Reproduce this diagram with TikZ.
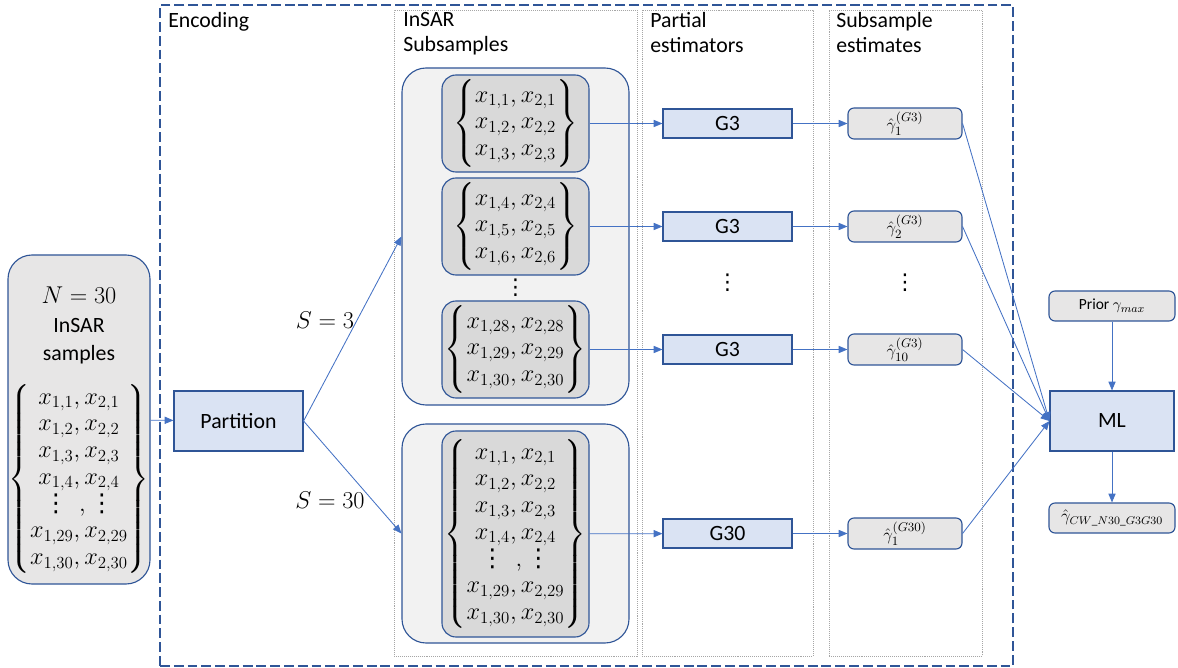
\documentclass[tikz,border=0pt]{standalone}
\usepackage{amsmath}
\usepackage{fontspec}
\setmainfont{Carlito}
\newfontfamily\dotsfont{DejaVu Sans}
\usetikzlibrary{arrows.meta,positioning}

\definecolor{boxline}{HTML}{2F5597}
\definecolor{arrowblue}{HTML}{4472C4}
\definecolor{blockfill}{HTML}{DAE3F3}
\definecolor{greyfill}{HTML}{E7E6E6}
\definecolor{outerfill}{HTML}{F2F2F2}
\definecolor{innerfill}{HTML}{D9D9D9}
\definecolor{colline}{HTML}{A6A6A6}

\newcommand*{\px}{0.025cm}
\newcommand*{\colx}{727.5}
\newcommand*{\estx}{905}
\newcommand*{\mlx}{1112}
\newcommand*{\mtxsize}{\fontsize{17.5}{19}\selectfont}
\newcommand*{\vdts}{{\dotsfont ⋮}}
\newcommand*{\mvdts}{\text{\vdts}}

\begin{document}
\begin{tikzpicture}[x=\px, y=-\px,
  every node/.style={font=\fontsize{15.5}{19}\selectfont},
  arr/.style={-{Triangle[length=2.2mm,width=1.8mm]}, arrowblue, line width=0.6pt},
  blk/.style={draw=boxline, fill=blockfill, line width=0.8pt, inner sep=0pt},
  est/.style={draw=boxline, fill=greyfill, line width=0.8pt, rounded corners=0.15cm, inner sep=0pt,
    minimum width=114*\px, minimum height=31*\px, font=\fontsize{12.5}{14}\selectfont},
  grp/.style={draw=boxline, fill=outerfill, line width=0.8pt, rounded corners=0.6cm, minimum width=227*\px},
  sub/.style={draw=boxline, fill=innerfill, line width=0.8pt, rounded corners=0.35cm, minimum width=147*\px},
  mtx/.style={inner sep=0pt, font=\mtxsize},
  col/.style={draw=colline, line width=0.6pt, dash pattern=on 0.7pt off 0.7pt, inner sep=0pt},
  ttl/.style={anchor=north west, align=left, inner sep=0pt, font=\fontsize{15.5}{18}\selectfont}]

	\useasboundingbox (0,0) rectangle (1178,668);

	% encoding frame and columns
	\node[draw=boxline, line width=1.2pt, dash pattern=on 7pt off 2.8pt, minimum width=853*\px, minimum height=661*\px, inner sep=0pt] (enc) at (586.5,335.5) {};
	\node[col, minimum width=243*\px, minimum height=646*\px] (colsub) at (515.5,333) {};
	\node[col, minimum width=171*\px, minimum height=646*\px] (colpart) at (\colx,333) {};
	\node[col, minimum width=153*\px, minimum height=646*\px] (colest) at (905.5,333) {};

	\node[ttl] (tenc) at (168,12) {Encoding};
	\node[ttl] (tsub) at (403,12) {InSAR\\Subsamples};
	\node[ttl] (tpart) at (650,12) {Partial\\estimators};
	\node[ttl] (test) at (836,12) {Subsample\\estimates};

	% input samples
	\node[draw=boxline, fill=greyfill, line width=0.8pt, rounded corners=0.6cm, minimum width=142*\px, minimum height=329*\px, inner sep=0pt] (inbox) at (79,419.5) {};
	\node[align=center, inner sep=0pt, font=\fontsize{15.5}{20}\selectfont, anchor=north] (intxt) at (79,287)
	  {{\mtxsize$N=30$}\\InSAR\\samples};
	\node[mtx] (min) at (79,479)
	  {$\left\{\begin{array}{@{}c@{}}
	     x_{1,1},x_{2,1}\\ x_{1,2},x_{2,2}\\ x_{1,3},x_{2,3}\\ x_{1,4},x_{2,4}\\
	     \mvdts\;\,,\mvdts\\ x_{1,29},x_{2,29}\\ x_{1,30},x_{2,30}
	   \end{array}\right\}$};

	\node[blk, minimum width=129*\px, minimum height=60*\px] (part) at (238.5,421) {Partition};
	\node[font=\mtxsize] (s3) at (325,320) {$S=3$};
	\node[font=\mtxsize] (s30) at (330,500) {$S=30$};

	% subsamples
	\node[grp, minimum height=337*\px] (grpA) at (515.5,236.5) {};
	\node[sub, minimum height=97*\px] (subA1) at (515.5,123.5) {};
	\node[mtx] (mA1) at (subA1)
	  {$\left\{\begin{array}{@{}c@{}} x_{1,1},x_{2,1}\\ x_{1,2},x_{2,2}\\ x_{1,3},x_{2,3} \end{array}\right\}$};
	\node[sub, minimum height=97*\px] (subA2) at (515.5,226.5) {};
	\node[mtx] (mA2) at (subA2)
	  {$\left\{\begin{array}{@{}c@{}} x_{1,4},x_{2,4}\\ x_{1,5},x_{2,5}\\ x_{1,6},x_{2,6} \end{array}\right\}$};
	\node (dotsA) at (515.5,288) {\vdts};
	\node[sub, minimum height=97*\px] (subA3) at (515.5,349.5) {};
	\node[mtx] (mA3) at (subA3)
	  {$\left\{\begin{array}{@{}c@{}} x_{1,28},x_{2,28}\\ x_{1,29},x_{2,29}\\ x_{1,30},x_{2,30} \end{array}\right\}$};

	\node[grp, minimum height=219*\px] (grpB) at (515.5,533.5) {};
	\node[sub, minimum height=206*\px] (subB) at (515.5,534) {};
	\node[mtx] (mB) at (subB)
	  {$\left\{\begin{array}{@{}c@{}}
	     x_{1,1},x_{2,1}\\ x_{1,2},x_{2,2}\\ x_{1,3},x_{2,3}\\ x_{1,4},x_{2,4}\\
	     \mvdts\;\,,\mvdts\\ x_{1,29},x_{2,29}\\ x_{1,30},x_{2,30}
	   \end{array}\right\}$};

	% partial estimators
	\node[blk, minimum width=129*\px, minimum height=29*\px] (g3a) at (\colx,123.5) {G3};
	\node[blk, minimum width=129*\px, minimum height=29*\px] (g3b) at (\colx,226.5) {G3};
	\node (dotsG) at (\colx,283) {\vdts};
	\node[blk, minimum width=129*\px, minimum height=29*\px] (g3c) at (\colx,349.5) {G3};
	\node[blk, minimum width=129*\px, minimum height=29*\px] (g30) at (\colx,533.5) {G30};

	% subsample estimates
	\node[est] (e1) at (\estx,123.5) {$\hat{\gamma}_1^{(G3)}$};
	\node[est] (e2) at (\estx,226.5) {$\hat{\gamma}_2^{(G3)}$};
	\node (dotsE) at (\estx,283) {\vdts};
	\node[est] (e10) at (\estx,349.5) {$\hat{\gamma}_{10}^{(G3)}$};
	\node[est] (e30) at (\estx,533.5) {$\hat{\gamma}_1^{(G30)}$};

	% ML stage
	\node[est, minimum width=126*\px, minimum height=30*\px, font=\fontsize{11}{13}\selectfont] (prior) at (\mlx,306) {Prior $\gamma_{max}$};
	\node[blk, minimum width=124*\px, minimum height=60*\px] (ml) at (\mlx,421) {ML};
	\node[est, minimum width=126*\px, minimum height=30*\px, font=\fontsize{11.5}{13}\selectfont] (out) at (\mlx,518) {$\hat{\gamma}_{CW\_N30\_G3G30}$};

	% connectors
	\draw[arr] (inbox) -- (part);
	\draw[arr] (part.east) -- (grpA.west);
	\draw[arr] (part.east) -- (grpB.west);
	\draw[arr] (subA1) -- (g3a);
	\draw[arr] (subA2) -- (g3b);
	\draw[arr] (subA3) -- (g3c);
	\draw[arr] (subB) -- (g30);
	\draw[arr] (g3a) -- (e1);
	\draw[arr] (g3b) -- (e2);
	\draw[arr] (g3c) -- (e10);
	\draw[arr] (g30) -- (e30);
	\draw[arr] (e1.east) -- (ml.west);
	\draw[arr] (e2.east) -- (ml.west);
	\draw[arr] (e10.east) -- (ml.west);
	\draw[arr] (e30.east) -- (ml.west);
	\draw[arr] (prior) -- (ml);
	\draw[arr] (ml) -- (out);

\end{tikzpicture}
\end{document}
